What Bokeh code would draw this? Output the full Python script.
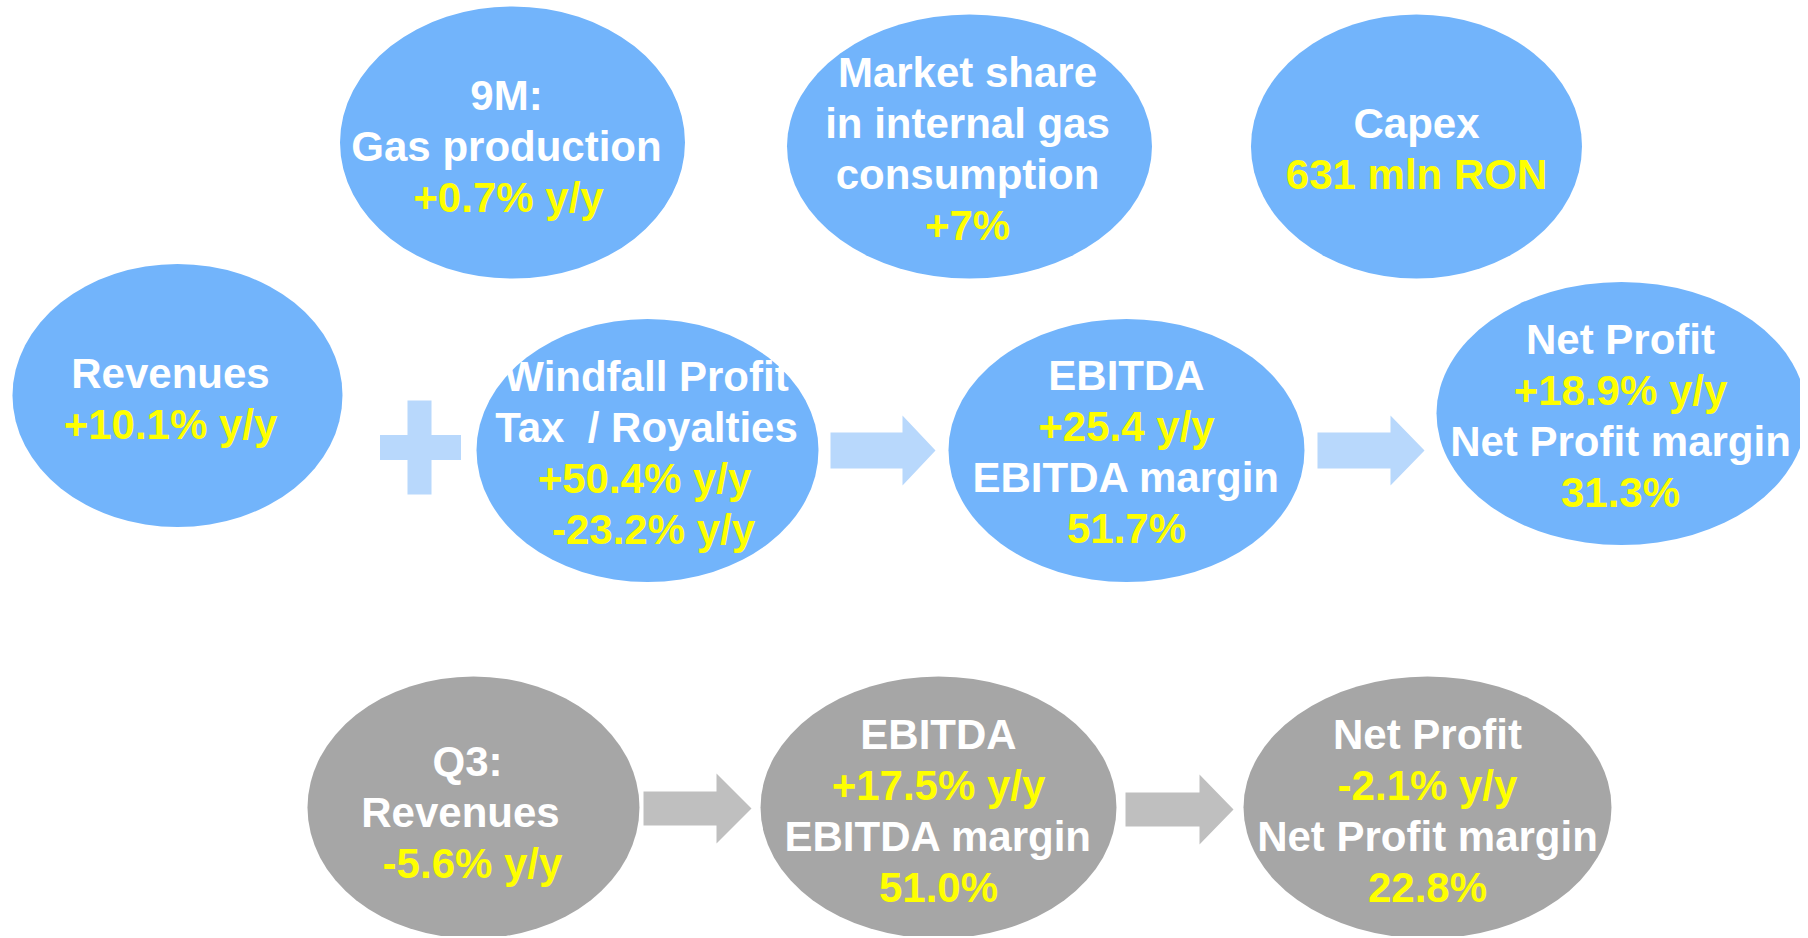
from bokeh.plotting import figure
from bokeh.models import Range1d, ColumnDataSource
from bokeh.core.properties import value
from bokeh.embed import file_html
from bokeh.resources import INLINE

# ---- data (texts of each bubble; True = highlighted value line) ----
nine_m_lines = ["9M:", "Gas production", "+0.7% y/y"]
nine_m_flags = [False, False, True]
market_lines = ["Market share", "in internal gas", "consumption", "+7%"]
market_flags = [False, False, False, True]
capex_lines = ["Capex", "631 mln RON"]
capex_flags = [False, True]
revenues_lines = ["Revenues", "+10.1% y/y"]
revenues_flags = [False, True]
windfall_lines = ["Windfall Profit", "Tax\u00a0 / Royalties", "+50.4% y/y", "-23.2% y/y"]
windfall_flags = [False, False, True, True]
ebitda_lines = ["EBITDA", "+25.4 y/y", "EBITDA margin", "51.7%"]
ebitda_flags = [False, True, False, True]
netprofit_lines = ["Net Profit", "+18.9% y/y", "Net Profit margin", "31.3%"]
netprofit_flags = [False, True, False, True]
q3_rev_lines = ["Q3:", "Revenues", "-5.6% y/y"]
q3_rev_flags = [False, False, True]
q3_ebitda_lines = ["EBITDA", "+17.5% y/y", "EBITDA margin", "51.0%"]
q3_ebitda_flags = [False, True, False, True]
q3_np_lines = ["Net Profit", "-2.1% y/y", "Net Profit margin", "22.8%"]
q3_np_flags = [False, True, False, True]

# ---- layout (positions / styles) ----
BLUE = "#72B4FB"
GREY = "#A6A6A6"
LBLUE = "#B8D8FC"
LGREY = "#BFBFBF"
YELLOW = "#FFFF00"
WHITE = "#FFFFFF"

# bubble: (lines, flags, cx, cy, w, h, color, text_cy, text_cx, per-line x offsets)
bubbles = [
    (nine_m_lines, nine_m_flags, 512, 142, 345, 272, BLUE, 146, 506, [0, 0, 2]),
    (market_lines, market_flags, 969, 146, 365, 264, BLUE, 148, 967, [0, 0, 0, 0]),
    (capex_lines, capex_flags, 1416, 146, 331, 264, BLUE, 148, 1416, [0, 0]),
    (revenues_lines, revenues_flags, 177, 395, 330, 263, BLUE, 398, 170, [0, 0]),
    (windfall_lines, windfall_flags, 647, 450, 342, 263, BLUE, 452, 646, [0, 0, -2, 7]),
    (ebitda_lines, ebitda_flags, 1126, 450, 356, 263, BLUE, 451, 1126, [0, 0, 0, 0]),
    (netprofit_lines, netprofit_flags, 1621, 413, 370, 263, BLUE, 415, 1620, [0, 0, 0, 0]),
    (q3_rev_lines, q3_rev_flags, 473, 807, 332, 262, GREY, 812, 467, [0, -7, 5]),
    (q3_ebitda_lines, q3_ebitda_flags, 938, 807, 356, 262, GREY, 810, 938, [0, 0, 0, 0]),
    (q3_np_lines, q3_np_flags, 1427, 807, 368, 262, GREY, 810, 1427, [0, 0, 0, 0]),
]

# arrows: (x_start, x_head, x_tip, cy, shaft_half, head_half, color)
arrows = [
    (830, 902, 935, 450, 18, 35, LBLUE),
    (1317, 1390, 1424, 450, 18, 35, LBLUE),
    (643, 716, 751, 808, 17, 35, LGREY),
    (1125, 1199, 1233, 809, 17, 35, LGREY),
]

W, H = 1800, 936
p = figure(width=W, height=H, output_backend="svg", toolbar_location=None,
           x_range=Range1d(0, W), y_range=Range1d(H, 0),
           min_border=0, background_fill_color="white", border_fill_color="white")
p.axis.visible = False
p.grid.visible = False
p.outline_line_color = None

# ellipses
for lines, flags, cx, cy, w, h, col, tcy, tcx, offs in bubbles:
    p.ellipse(x=[cx], y=[cy], width=[w], height=[h], fill_color=col, line_color=None)

# plus sign
p.rect(x=[420, 419], y=[447, 447], width=[81, 24], height=[25, 94],
       fill_color=LBLUE, line_color=None)

# arrows
xs, ys, cols = [], [], []
for x0, xh, x1, cy, sh, hh, col in arrows:
    xs.append([x0, xh, xh, x1, xh, xh, x0])
    ys.append([cy - sh, cy - sh, cy - hh, cy, cy + hh, cy + sh, cy + sh])
    cols.append(col)
p.patches(xs=xs, ys=ys, fill_color=cols, line_color=None)

# texts
spacing = 51
tx, ty, tt, tc = [], [], [], []
for lines, flags, cx, cy, w, h, col, tcy, tcx, offs in bubbles:
    n = len(lines)
    for i, (s, f) in enumerate(zip(lines, flags)):
        tx.append(tcx + offs[i])
        ty.append(tcy + (i - (n - 1) / 2) * spacing)
        tt.append(s)
        tc.append(YELLOW if f else WHITE)
src = ColumnDataSource(dict(x=tx, y=ty, text=tt, color=tc))
p.text(x="x", y="y", text="text", source=src, text_color="color",
       text_font=value("Liberation Sans"), text_font_style="bold",
       text_font_size="42px", text_align="center", text_baseline="middle")

open("out.html", "w").write(file_html(p, INLINE))
